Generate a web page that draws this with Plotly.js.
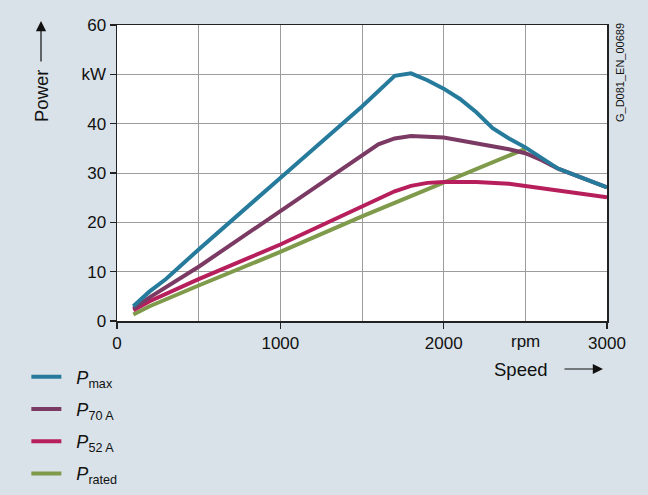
<!DOCTYPE html>
<html>
<head>
<meta charset="utf-8">
<script src="https://cdn.plot.ly/plotly-3.0.1.min.js"></script>
<style>html,body{margin:0;padding:0;background:#d9e2e8;}#chart{width:648px;height:495px;}</style>
</head>
<body>
<div id="chart"></div>
<script>
// Data
const pmaxSpeed = [100, 200, 300, 500, 1000, 1500, 1700, 1800, 1900, 2000, 2100, 2200, 2300, 2400, 2500, 2600, 2700, 2800, 2900, 3000];
const pmaxPower = [3.0, 6.0, 8.5, 14.5, 29.0, 43.5, 49.7, 50.2, 48.8, 47.1, 45.0, 42.3, 39.1, 37.0, 35.2, 33.0, 30.9, 29.6, 28.3, 27.1];

const p70Speed = [100, 200, 500, 1000, 1500, 1600, 1700, 1800, 2000, 2200, 2400, 2500, 2600, 2700, 2800, 2900, 3000];
const p70Power = [2.5, 4.8, 11.0, 22.2, 33.5, 35.8, 37.0, 37.5, 37.2, 36.1, 34.8, 34.0, 32.6, 30.9, 29.6, 28.3, 27.1];

const p52Speed = [100, 200, 500, 1000, 1500, 1700, 1800, 1900, 2000, 2200, 2400, 2500, 2600, 2800, 3000];
const p52Power = [2.2, 4.0, 8.5, 15.5, 23.2, 26.3, 27.4, 28.0, 28.2, 28.2, 27.8, 27.4, 27.0, 26.0, 25.1];

const pratedSpeed = [100, 200, 500, 1000, 1500, 2000, 2500];
const pratedPower = [1.3, 3.0, 7.2, 14.0, 21.2, 28.0, 34.9];

const seriesNames = ["&nbsp;&nbsp;<i>P</i><sub>max</sub>", "&nbsp;&nbsp;<i>P</i><sub>70 A</sub>", "&nbsp;&nbsp;<i>P</i><sub>52 A</sub>", "&nbsp;&nbsp;<i>P</i><sub>rated</sub>"];
const seriesColors = ["#267b9c", "#7b3a63", "#b71f5c", "#7f9a4a"];

const xTickVals = [0, 1000, 2000, 3000];
const xTickText = ["0", "1000", "2000", "3000"];
const xMinorGrid = [500, 1500, 2500];
const xUnitPos = 2500;
const xUnitText = "rpm";
const yTickVals = [0, 10, 20, 30, 40, 50, 60];
const yTickText = ["0", "10", "20", "30", "40", "kW", "60"];

const xs = [pmaxSpeed, p70Speed, p52Speed, pratedSpeed];
const ys = [pmaxPower, p70Power, p52Power, pratedPower];

const traces = [];
// draw in reverse so P_max is on top, but keep legend order
for (let i = 3; i >= 0; i--) {
  traces.push({
    x: xs[i], y: ys[i], type: "scatter", mode: "lines",
    name: seriesNames[i], legendrank: i + 1, legendgroup: "g" + i,
    line: {color: seriesColors[i], width: 4}
  });
}

const fam = "Liberation Sans, Arial, sans-serif";
const ink = "#111";
const gridCol = "#9c9c9c";

const layout = {
  width: 648, height: 495,
  paper_bgcolor: "#d9e2e8",
  plot_bgcolor: "#ffffff",
  margin: {l: 117, r: 41, t: 25, b: 174, autoexpand: false},
  font: {size: 17, family: fam, color: ink},
  showlegend: true,
  legend: {
    x: -0.185, xanchor: "left", y: -0.127, yanchor: "top",
    bgcolor: "rgba(0,0,0,0)", font: {size: 18, family: fam, color: ink},
    traceorder: "grouped", tracegroupgap: 5.8
  },
  xaxis: {
    range: [0, 3000], tickvals: xTickVals, ticktext: xTickText,
    showgrid: true, gridcolor: gridCol, gridwidth: 1,
    minor: {tickvals: xMinorGrid, showgrid: true, gridcolor: gridCol, gridwidth: 1, ticks: ""},
    showline: true, linecolor: "#222", linewidth: 1.5, mirror: true,
    ticks: "outside", ticklen: 6, tickcolor: "#222", tickwidth: 1.5,
    zeroline: false, fixedrange: true,
    tickfont: {size: 17, family: fam, color: ink}
  },
  yaxis: {
    range: [0, 60], tickvals: yTickVals, ticktext: yTickText,
    showgrid: true, gridcolor: gridCol, gridwidth: 1,
    showline: true, linecolor: "#222", linewidth: 1.5, mirror: true,
    ticks: "outside", ticklen: 6, tickcolor: "#222", tickwidth: 1.5,
    zeroline: false, fixedrange: true,
    tickfont: {size: 17, family: fam, color: ink}
  },
  annotations: [
    {xref: "x", yref: "paper", x: xUnitPos, y: (321 - 341) / 296,
     xanchor: "center", yanchor: "middle", text: xUnitText, showarrow: false,
     font: {size: 17, family: fam, color: ink}},
    {xref: "paper", yref: "paper", x: (41 - 117) / 490, y: (321 - 96) / 296,
     xanchor: "center", yanchor: "middle",
     text: "Power", textangle: -90, showarrow: false, font: {size: 18.5, family: fam, color: ink}},
    {xref: "paper", yref: "paper", x: (41 - 117) / 490, y: (321 - 21) / 296,
     ax: 0, ay: 42, text: "", showarrow: true,
     arrowhead: 2, arrowsize: 1.7, arrowwidth: 1.2, arrowcolor: ink},
    {xref: "paper", yref: "paper", x: (521 - 117) / 490, y: (321 - 369) / 296,
     xanchor: "center", yanchor: "middle",
     text: "Speed", showarrow: false, font: {size: 18.5, family: fam, color: ink}},
    {xref: "paper", yref: "paper", x: (603 - 117) / 490, y: (321 - 369) / 296,
     ax: -40, ay: 0, text: "", showarrow: true,
     arrowhead: 2, arrowsize: 1.7, arrowwidth: 1.2, arrowcolor: ink},
    {xref: "paper", yref: "paper", x: (620 - 117) / 490, y: (321 - 73) / 296,
     xanchor: "center", yanchor: "middle",
     text: "G_D081_EN_00689", textangle: -90, showarrow: false,
     font: {size: 11, family: fam, color: ink}}
  ]
};

Plotly.newPlot("chart", traces, layout, {displayModeBar: false, staticPlot: true});
</script>
</body>
</html>
